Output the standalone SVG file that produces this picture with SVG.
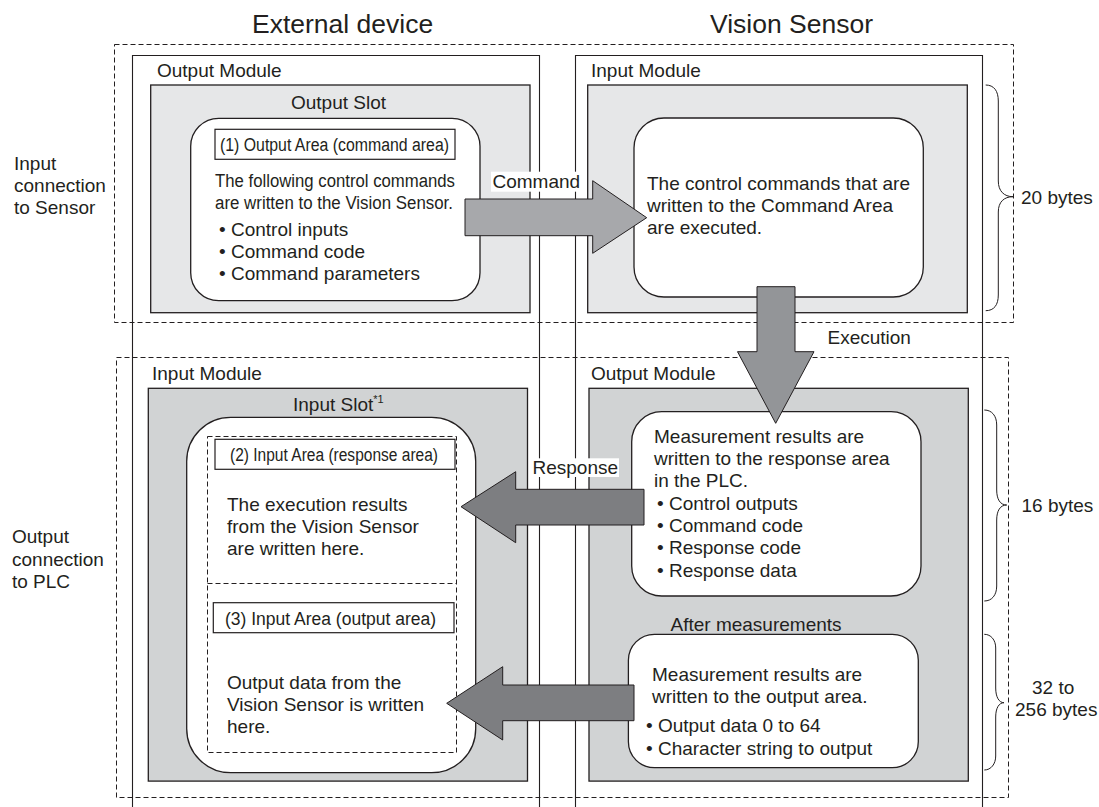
<svg xmlns="http://www.w3.org/2000/svg" width="1099" height="807" viewBox="0 0 1099 807">
<defs>
<style>
text{font-family:"Liberation Sans",Arial,Helvetica,sans-serif;fill:#231f20;font-size:19px}
.title{font-size:26.5px}
.dash{fill:none;stroke:#231f20;stroke-width:1;stroke-dasharray:5 3}
.col{fill:none;stroke:#231f20;stroke-width:1.1}
.gray1{fill:#e6e7e8;stroke:#231f20;stroke-width:1.3}
.gray2{fill:#d1d3d4;stroke:#231f20;stroke-width:1.3}
.rbox{fill:#fff;stroke:#231f20;stroke-width:1.3}
.lbox{fill:#fff;stroke:#231f20;stroke-width:1.2}
.brace{fill:none;stroke:#231f20;stroke-width:1}
.arrL{fill:#a7a8ab;stroke:#231f20;stroke-width:1}
.arrM{fill:#939598;stroke:#231f20;stroke-width:1}
.arrD{fill:#7d7e81;stroke:#231f20;stroke-width:1}
.lblbg{fill:#fff}
.cond{font-size:18px}
</style>
</defs>
<rect width="1099" height="807" fill="#fff"/>

<g id="titles">
<text class="title" x="252" y="33">External device</text>
<text class="title" x="710" y="33">Vision Sensor</text>
</g>

<g id="connection-groups">
<rect class="dash" x="114.5" y="44.5" width="899" height="278"/>
<rect class="dash" x="116.5" y="357.5" width="892" height="440"/>
</g>

<g id="side-labels">
<text x="14" y="170">Input</text>
<text x="14" y="192">connection</text>
<text x="14" y="214">to Sensor</text>
<text x="12" y="543">Output</text>
<text x="12" y="565.5">connection</text>
<text x="12" y="588">to PLC</text>
</g>

<g id="external-device-column">
<path class="col" d="M132.5,807 V55.5 H539.5 V807"/>
</g>
<g id="vision-sensor-column">
<path class="col" d="M575.5,807 V55.5 H982.5 V807"/>
</g>

<g id="ext-output-module">
<text x="157" y="77">Output Module</text>
<rect class="gray1" x="150.7" y="85" width="379.3" height="227.7"/>
<text x="291" y="109">Output Slot</text>
</g>
<g id="ext-output-area">
<rect class="rbox" x="190.7" y="118.3" width="289.3" height="182.4" rx="28" ry="28"/>
<rect class="lbox" x="215" y="129.3" width="240" height="30"/>
<text class="cond" x="220" y="151" textLength="229" lengthAdjust="spacingAndGlyphs">(1) Output Area (command area)</text>
<text class="cond" x="215" y="187" textLength="240" lengthAdjust="spacingAndGlyphs">The following control commands</text>
<text class="cond" x="215" y="209" textLength="238" lengthAdjust="spacingAndGlyphs">are written to the Vision Sensor.</text>
<text x="219" y="236">• Control inputs</text>
<text x="219" y="258">• Command code</text>
<text x="219" y="280">• Command parameters</text>
</g>

<g id="vs-input-module">
<text x="591" y="77">Input Module</text>
<rect class="gray1" x="587.7" y="85" width="379.6" height="227.7"/>
</g>
<g id="vs-command-area">
<rect class="rbox" x="634" y="118" width="289.3" height="179" rx="30" ry="30"/>
<text x="647" y="190">The control commands that are</text>
<text x="647" y="212">written to the Command Area</text>
<text x="647" y="234">are executed.</text>
</g>

<g id="ext-input-module">
<text x="152" y="380">Input Module</text>
<rect class="gray2" x="148.3" y="388.3" width="379.2" height="392.8"/>
<text x="293" y="410.7">Input Slot<tspan font-size="11" dy="-8">*1</tspan></text>
</g>
<g id="ext-input-slot">
<rect class="rbox" x="186.7" y="417.3" width="289" height="355.4" rx="44" ry="44"/>
<rect class="dash" x="207.5" y="436.5" width="249" height="316"/>
<line class="dash" x1="207.5" y1="583.5" x2="456.5" y2="583.5"/>
</g>
<g id="ext-response-area">
<rect class="lbox" x="215" y="439.3" width="240" height="30"/>
<text class="cond" x="230" y="461" textLength="208" lengthAdjust="spacingAndGlyphs">(2) Input Area (response area)</text>
<text x="227" y="511">The execution results</text>
<text x="227" y="533">from the Vision Sensor</text>
<text x="227" y="555">are written here.</text>
</g>
<g id="ext-output-area-in">
<rect class="lbox" x="213.3" y="602.7" width="240.7" height="30"/>
<text class="cond" x="225" y="625" textLength="211" lengthAdjust="spacingAndGlyphs">(3) Input Area (output area)</text>
<text x="227" y="689">Output data from the</text>
<text x="227" y="711">Vision Sensor is written</text>
<text x="227" y="733">here.</text>
</g>

<g id="vs-output-module">
<text x="591" y="380">Output Module</text>
<rect class="gray2" x="589" y="388.3" width="379.3" height="392.8"/>
</g>
<g id="vs-response">
<rect class="rbox" x="631.7" y="411.7" width="289.3" height="184.3" rx="30" ry="30"/>
<text x="654" y="443">Measurement results are</text>
<text x="654" y="464.5">written to the response area</text>
<text x="654" y="486.5">in the PLC.</text>
<text x="657" y="510">• Control outputs</text>
<text x="657" y="532">• Command code</text>
<text x="657" y="554">• Response code</text>
<text x="657" y="576.5">• Response data</text>
</g>
<g id="vs-after-measurements">
<text x="670.5" y="630.5">After measurements</text>
<rect class="rbox" x="628.4" y="634.3" width="289.9" height="133.4" rx="26" ry="26"/>
<text x="652" y="681">Measurement results are</text>
<text x="652" y="703">written to the output area.</text>
<text x="646" y="731.5">• Output data 0 to 64</text>
<text x="646" y="754.5">• Character string to output</text>
</g>

<g id="sizes">
<path class="brace" d="M985.7,85 C994,85 998.3,91 998.3,101 V181 C998.3,191 1004,196.7 1013,196.7 C1004,196.7 998.3,202 998.3,212 V295 C998.3,305 994,310.7 985.7,310.7"/>
<text x="1021" y="204">20 bytes</text>
<path class="brace" d="M984.3,410 C992,410 996.7,416 996.7,425 V490 C996.7,499 1000,505 1006.7,505 C1000,505 996.7,511 996.7,520 V586 C996.7,595 992,601 984.3,601"/>
<text x="1021.5" y="511.5">16 bytes</text>
<path class="brace" d="M984.3,634.3 C991,634.3 995.7,640 995.7,648 V688 C995.7,697 999,702.7 1004,702.7 C999,702.7 995.7,708 995.7,717 V756 C995.7,764 991,770 984.3,770"/>
<text x="1032" y="693.5">32 to</text>
<text x="1015" y="715.5">256 bytes</text>
</g>

<g id="connectors">
<path class="arrL" d="M465,199 H592.7 V180.7 L646.7,217.7 L592.7,253.3 V235.7 H465 Z"/>
<rect class="lblbg" x="491" y="171.7" width="89" height="20"/>
<text x="492.5" y="188">Command</text>
<path class="arrM" d="M757,286.7 V351.7 H737.5 L775.7,423.3 L814,351.7 H795 V286.7 Z"/>
<text x="827.5" y="344">Execution</text>
<path class="arrD" d="M644,489.3 H515.7 V471.7 L461,506.7 L515.7,542.7 V525 H644 Z"/>
<rect class="lblbg" x="531" y="458.3" width="88" height="18.7"/>
<text x="532.5" y="473.5">Response</text>
<path class="arrD" d="M634,685 H502.7 V666.7 L446.7,703.3 L502.7,740 V720.7 H634 Z"/>
</g>
</svg>
